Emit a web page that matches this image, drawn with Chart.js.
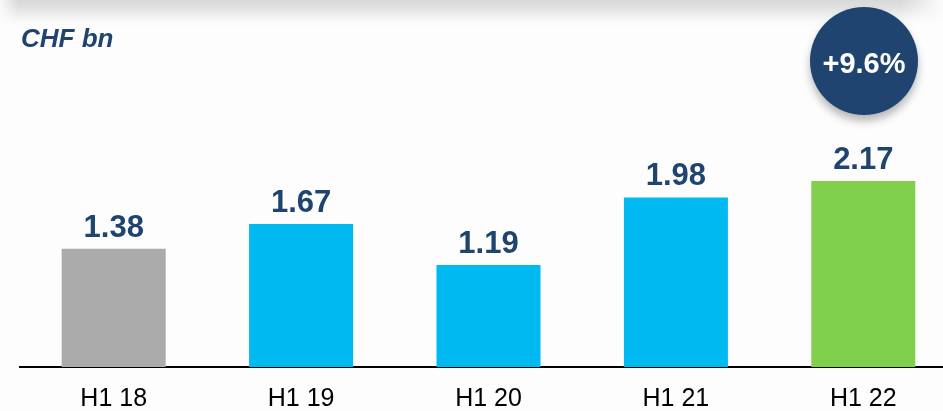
<!DOCTYPE html>
<html>
<head>
<meta charset="utf-8">
<script src="https://cdn.jsdelivr.net/npm/chart.js@4.4.0/dist/chart.umd.min.js"></script>
<style>
  html, body { margin: 0; padding: 0; width: 943px; height: 411px; overflow: hidden; background: #fdfdfd; }
  #wrap { position: relative; width: 943px; height: 411px; overflow: hidden; }
  #topband { position: absolute; left: 0; top: 0; width: 943px; height: 26px;
    background: linear-gradient(to bottom, #d8d8d8 0px, #dcdcdc 4px, #e2e2e2 8px, #e9e9e9 12px, #f0f0f0 16px, #f7f7f7 20px, rgba(253,253,253,0) 26px);
    -webkit-mask-image: linear-gradient(to right, rgba(0,0,0,0.1) 0px, #000 18px, #000 900px, rgba(0,0,0,0.1) 940px);
    mask-image: linear-gradient(to right, rgba(0,0,0,0.1) 0px, #000 18px, #000 900px, rgba(0,0,0,0.1) 940px); }
  #unit { position: absolute; left: 21px; top: 25px; font-family: "Liberation Sans", Arial, sans-serif; font-weight: bold; font-style: italic; font-size: 26px; line-height: 26px; color: #1F4470; }
  #badge { position: absolute; left: 810px; top: 7px; width: 108px; height: 108px; border-radius: 50%; background: #1F4470;
    box-shadow: 0 6px 8px rgba(0,0,0,0.28); display: flex; align-items: center; justify-content: center;
    font-family: "Liberation Sans", Arial, sans-serif; font-weight: bold; font-size: 29px; color: #ffffff; box-sizing: border-box; padding-top: 5px; }
  #cv { position: absolute; left: 0; top: 0; }
</style>
</head>
<body>
<div id="wrap">
  <div id="topband"></div>
  <canvas id="cv" width="958" height="431"></canvas>
  <div id="unit">CHF bn</div>
  <div id="badge">+9.6%</div>
</div>
<script>
const categories = ["H1 18", "H1 19", "H1 20", "H1 21", "H1 22"];
const values = [1.38, 1.67, 1.19, 1.98, 2.17];
const valueLabels = ["1.38", "1.67", "1.19", "1.98", "2.17"];
const barColors = ["#ABABAB", "#00B9F1", "#00B9F1", "#00B9F1", "#80D04C"];
const growthLabel = "+9.6%";
const unitLabel = "CHF bn";

document.getElementById('badge').textContent = growthLabel;
document.getElementById('unit').textContent = unitLabel;

const valueLabelPlugin = {
  id: 'valueLabels',
  afterDatasetsDraw(chart) {
    const ctx = chart.ctx;
    const meta = chart.getDatasetMeta(0);
    ctx.save();
    ctx.font = 'bold 31px "Liberation Sans", Arial, sans-serif';
    ctx.fillStyle = '#1F4470';
    ctx.textAlign = 'center';
    ctx.textBaseline = 'alphabetic';
    meta.data.forEach((bar, i) => {
      ctx.fillText(valueLabels[i], bar.x, bar.y - 12);
    });
    ctx.restore();
  }
};

new Chart(document.getElementById('cv'), {
  type: 'bar',
  data: {
    labels: categories,
    datasets: [{
      data: values,
      backgroundColor: barColors,
      borderWidth: 0,
      barPercentage: 0.555,
      categoryPercentage: 1.0
    }]
  },
  options: {
    responsive: false,
    animation: false,
    devicePixelRatio: 1,
    layout: { padding: { left: 20, right: 1, top: 110, bottom: 0 } },
    plugins: { legend: { display: false }, tooltip: { enabled: false } },
    scales: {
      x: {
        grid: { display: false, drawTicks: false },
        border: { display: true, color: '#000000', width: 2 },
        ticks: { color: '#000000', padding: 17, font: { family: '"Liberation Sans", Arial, sans-serif', size: 25 } }
      },
      y: {
        display: false,
        min: 0,
        max: 3
      }
    }
  },
  plugins: [valueLabelPlugin]
});
</script>
</body>
</html>
